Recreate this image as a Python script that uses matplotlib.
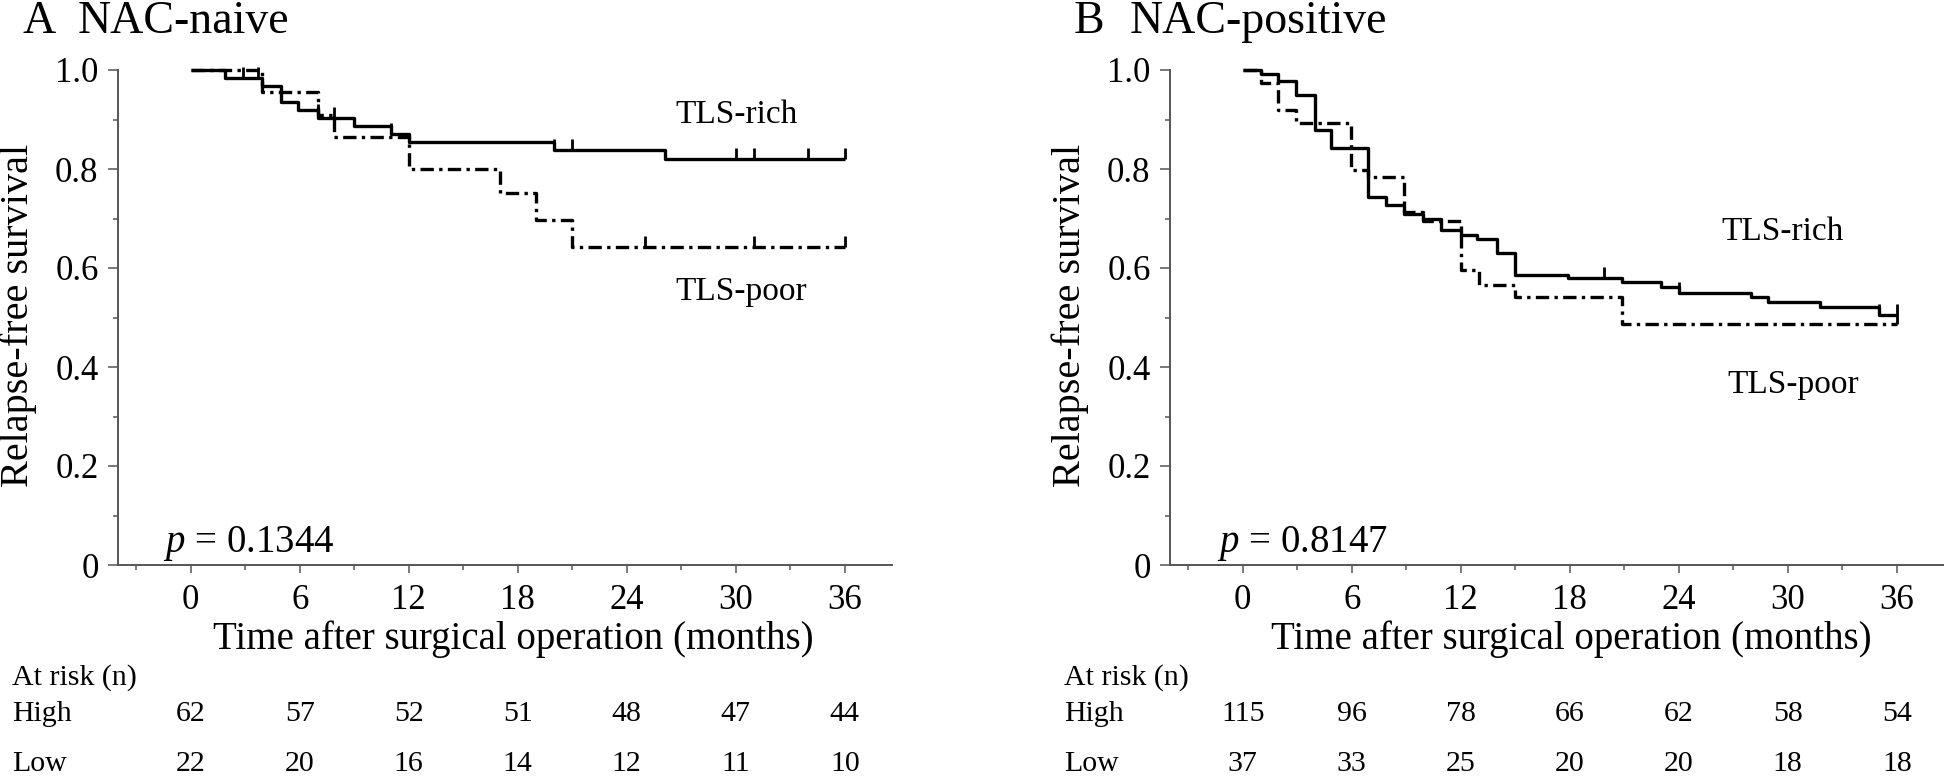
import numpy as np
import matplotlib
matplotlib.use("Agg")
import matplotlib.pyplot as plt
from matplotlib.transforms import blended_transform_factory

plt.rcParams['font.family'] = ['Liberation Serif', 'DejaVu Serif']
plt.rcParams['mathtext.fontset'] = 'custom'
plt.rcParams['mathtext.rm'] = 'Liberation Serif'
plt.rcParams['mathtext.it'] = 'Liberation Serif:italic'

# ---- data ----
# panel A, NAC-naive
a_rich_t = [0, 1.9, 3.9, 4.95, 5.9, 7.0, 9.0, 11.0, 12.0, 20.0, 26.1, 36]
a_rich_s = [1.0, 0.984, 0.968, 0.935, 0.919, 0.903, 0.887, 0.871, 0.855, 0.838, 0.820, 0.820]
a_rich_cens = [2.9, 3.7, 7.9, 11.0, 20.0, 21.0, 30.0, 31.0, 34.0, 36.0]
a_poor_t = [0, 3.9, 7.0, 7.9, 12.0, 17.0, 19.0, 21.0, 36]
a_poor_s = [1.0, 0.955, 0.909, 0.864, 0.801, 0.751, 0.697, 0.642, 0.642]
a_poor_cens = [7.0, 25.0, 31.0, 36.0]
a_high = [62, 57, 52, 51, 48, 47, 44]
a_low = [22, 20, 16, 14, 12, 11, 10]
a_p = "0.1344"

# panel B, NAC-positive
b_rich_t = [0, 1.0, 1.94, 2.94, 3.96, 4.88, 6.9, 7.9, 8.9, 9.9, 10.9, 12.0, 12.9,
            14.0, 15.0, 17.9, 20.9, 23.0, 24.0, 28.0, 28.9, 31.8, 35.0, 36]
b_rich_s = [1.0, 0.991, 0.977, 0.95, 0.879, 0.842, 0.744, 0.727, 0.71, 0.70, 0.677, 0.667, 0.658,
            0.63, 0.586, 0.58, 0.572, 0.561, 0.55, 0.542, 0.532, 0.522, 0.505, 0.505]
b_rich_cens = [19.9, 24.0, 35.0, 36.0]
b_poor_t = [0, 1.0, 1.94, 2.94, 5.98, 6.9, 8.9, 9.9, 12.0, 13.0, 15.0, 20.9, 36]
b_poor_s = [1.0, 0.973, 0.919, 0.892, 0.798, 0.783, 0.714, 0.694, 0.596, 0.566, 0.542, 0.487, 0.487]
b_poor_cens = [36.0]
b_high = [115, 96, 78, 66, 62, 58, 54]
b_low = [37, 33, 25, 20, 20, 18, 18]
b_p = "0.8147"

risk_times = [0, 6, 12, 18, 24, 30, 36]

W, H = 1944, 778
fig = plt.figure(figsize=(W / 100, H / 100), dpi=100)

LW = 2.4
DASH = (0, (4, 1.6, 1, 1.6))
AXCOL = '#555555'


def km(ax, t, s, cens, ls):
    ax.step(t, s, where='post', color='black', lw=LW, ls=ls, clip_on=False,
            solid_capstyle='butt', dash_capstyle='butt')
    cs = [s[np.searchsorted(t, c, side='right') - 1] for c in cens]
    ax.vlines(cens, cs, np.array(cs) + 0.022, color='black', lw=2.0, clip_on=False)


def panel(left_px, right_px, letter, name, rich, poor, high, low, pval,
          rich_lab, poor_lab, xlab_px):
    ax = fig.add_axes([left_px / W, 1 - 565 / H, (right_px - left_px) / W, 495 / H])
    km(ax, *poor, ls=DASH)
    km(ax, *rich, ls='-')
    ax.set_xlim(-4, 38.6)
    ax.set_ylim(0, 1.0)
    for sp in ['top', 'right']:
        ax.spines[sp].set_visible(False)
    for sp in ['left', 'bottom']:
        ax.spines[sp].set_color(AXCOL)
        ax.spines[sp].set_linewidth(1.4)
    ax.set_xticks(risk_times)
    ax.set_xticks(np.arange(-3, 36, 6), minor=True)
    ax.set_yticks([0, 0.2, 0.4, 0.6, 0.8, 1.0])
    ax.set_yticklabels(['0', '0.2', '0.4', '0.6', '0.8', '1.0'])
    ax.set_yticks([0.1, 0.3, 0.5, 0.7, 0.9], minor=True)
    ax.tick_params(axis='both', which='both', direction='out', color=AXCOL,
                   width=1.1, labelsize=25)
    ax.tick_params(axis='x', which='major', length=6, pad=8)
    ax.tick_params(axis='y', which='major', length=7, pad=7)
    ax.tick_params(axis='both', which='minor', length=3.5)

    ax.text(rich_lab[0], rich_lab[1], 'TLS-rich', fontsize=24, va='baseline')
    ax.text(poor_lab[0], poor_lab[1], 'TLS-poor', fontsize=24, va='baseline')
    ax.text(pval[0], 0.026, r'$p$ = ' + pval[1], fontsize=28, va='baseline')

    fx = left_px / W
    fig.text(fx - 96 / W, 1 - 33 / H, letter, fontsize=33, va='baseline')
    fig.text(fx - 40 / W, 1 - 33 / H, name, fontsize=33, va='baseline')
    fig.text(fx - 100 / W, 1 - 315 / H, 'Relapse-free survival', fontsize=29,
             rotation=90, ha='center', va='center')
    fig.text(xlab_px / W, 1 - 649 / H, 'Time after surgical operation (months)',
             fontsize=28, va='baseline')

    tr = blended_transform_factory(ax.transData, fig.transFigure)
    fig.text(fx - 106 / W, 1 - 685 / H, 'At risk (n)', fontsize=21.5, va='baseline')
    fig.text(fx - 106 / W, 1 - 721 / H, 'High', fontsize=21.5, va='baseline')
    fig.text(fx - 106 / W, 1 - 771 / H, 'Low', fontsize=21.5, va='baseline')
    for x, h, l in zip(risk_times, high, low):
        ax.text(x, 1 - 721 / H, str(h), transform=tr, fontsize=21.5, ha='center', va='baseline')
        ax.text(x, 1 - 771 / H, str(l), transform=tr, fontsize=21.5, ha='center', va='baseline')
    return ax


panel(118, 892, 'A', 'NAC-naive',
      (a_rich_t, a_rich_s, a_rich_cens), (a_poor_t, a_poor_s, a_poor_cens),
      a_high, a_low, (-1.5, a_p), (26.7, 0.893), (26.7, 0.535), 213)
panel(1170, 1944, 'B', 'NAC-positive',
      (b_rich_t, b_rich_s, b_rich_cens), (b_poor_t, b_poor_s, b_poor_cens),
      b_high, b_low, (-1.43, b_p), (26.35, 0.657), (26.7, 0.347), 1271)

fig.savefig('out.png', dpi=100)
